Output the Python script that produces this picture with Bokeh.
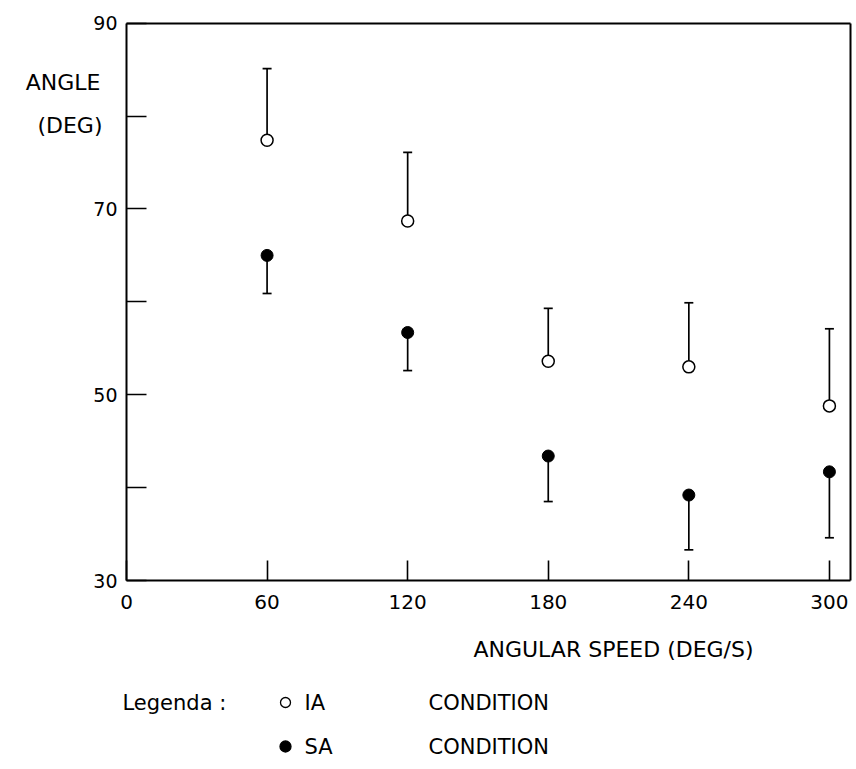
from bokeh.plotting import figure
from bokeh.models import (ColumnDataSource, Whisker, TeeHead, Range1d, FixedTicker, Label,
                          LinearAxis)
from bokeh.embed import file_html
from bokeh.resources import INLINE

# ---- data ----
speeds = [60, 120, 180, 240, 300]
ia_mean = [77.4, 68.7, 53.6, 53.0, 48.8]
ia_upper = [85.1, 76.1, 59.3, 59.9, 57.1]
sa_mean = [65.0, 56.7, 43.4, 39.2, 41.7]
sa_lower = [60.9, 52.6, 38.5, 33.3, 34.6]

x_ticks = [0, 60, 120, 180, 240, 300]
y_ticks = [30, 40, 50, 60, 70, 80, 90]
y_tick_labels = {30: "30", 40: "", 50: "50", 60: "", 70: "70", 80: "", 90: "90"}
X_MIN, X_MAX = 0, 309
Y_MIN, Y_MAX = 30, 90

FONT = "DejaVu Sans"

# ---- layout (pixels on the canvas) ----
W, H = 854, 767
L, R, T, B = 126, 850, 22.7, 580
sx = (R - L) / (X_MAX - X_MIN)
sy = (B - T) / (Y_MAX - Y_MIN)


def dx(px):
    return X_MIN + (px - L) / sx


def dy(py):
    return Y_MIN + (B - py) / sy


ia_src = ColumnDataSource(dict(x=speeds, y=ia_mean, hi=ia_upper))
sa_src = ColumnDataSource(dict(x=speeds, y=sa_mean, lo=sa_lower))

p = figure(width=W, height=H, output_backend="svg", toolbar_location=None,
           x_axis_type=None, y_axis_type=None,
           x_range=Range1d(dx(0), dx(W)), y_range=Range1d(dy(H), dy(0)),
           min_border=0)
p.grid.visible = False
p.outline_line_color = None
p.background_fill_color = "white"
p.border_fill_color = "white"


def style_axis(ax):
    ax.axis_line_width = 2
    ax.axis_line_color = "black"
    ax.major_tick_in = 20
    ax.major_tick_out = 0
    ax.major_tick_line_width = 1.6
    ax.major_tick_line_color = "black"
    ax.minor_tick_line_color = None
    ax.major_label_text_font = FONT
    ax.major_label_text_color = "black"


xaxis = LinearAxis(fixed_location=Y_MIN, bounds=(X_MIN, X_MAX), ticker=FixedTicker(ticks=x_ticks))
style_axis(xaxis)
xaxis.major_label_text_font_size = "20px"
xaxis.major_label_standoff = 14
p.add_layout(xaxis, "below")

yaxis = LinearAxis(fixed_location=X_MIN, bounds=(Y_MIN, Y_MAX), ticker=FixedTicker(ticks=y_ticks),
                   major_label_overrides=y_tick_labels)
style_axis(yaxis)
yaxis.major_label_text_font_size = "19px"
yaxis.major_label_standoff = 9
p.add_layout(yaxis, "left")

# box closing lines (top and right)
topaxis = LinearAxis(fixed_location=Y_MAX, bounds=(X_MIN, X_MAX), ticker=FixedTicker(ticks=[]))
style_axis(topaxis)
p.add_layout(topaxis, "above")
rightaxis = LinearAxis(fixed_location=X_MAX, bounds=(Y_MIN, Y_MAX), ticker=FixedTicker(ticks=[]))
style_axis(rightaxis)
p.add_layout(rightaxis, "right")

# error bars
p.add_layout(Whisker(source=ia_src, base="x", lower="y", upper="hi", dimension="height",
                     line_color="black", line_width=1.7,
                     upper_head=TeeHead(size=9, line_width=1.7, line_color="black"),
                     lower_head=None))
p.add_layout(Whisker(source=sa_src, base="x", lower="lo", upper="y", dimension="height",
                     line_color="black", line_width=1.7,
                     lower_head=TeeHead(size=9, line_width=1.7, line_color="black"),
                     upper_head=None))

p.scatter("x", "y", source=ia_src, marker="circle", size=12, fill_color="white",
          line_color="black", line_width=1.5)
p.scatter("x", "y", source=sa_src, marker="circle", size=12, fill_color="black",
          line_color="black", line_width=1)


def text(px, py, s, align="left", size="22px"):
    p.add_layout(Label(x=dx(px), y=dy(py), text=s, text_align=align, text_baseline="middle",
                       text_font=FONT, text_font_size=size, text_color="black"))


# axis titles
text(100, 82, "ANGLE", align="right")
text(102, 125, "(DEG)", align="right")
text(613, 649, "ANGULAR SPEED (DEG/S)", align="center")

# legend
leg_labels = ["IA", "SA"]
leg_fill = ["white", "black"]
leg_rows = [702, 746]
p.scatter(x=[dx(285), dx(285)], y=[dy(r) for r in leg_rows], marker="circle", size=[10, 11],
          fill_color=leg_fill, line_color="black", line_width=1.3)
text(122, leg_rows[0], "Legenda :", size="21px")
for name, row in zip(leg_labels, leg_rows):
    text(304, row, name, size="21px")
    text(428, row, "CONDITION", size="21px")

open("out.html", "w").write(file_html(p, INLINE))
